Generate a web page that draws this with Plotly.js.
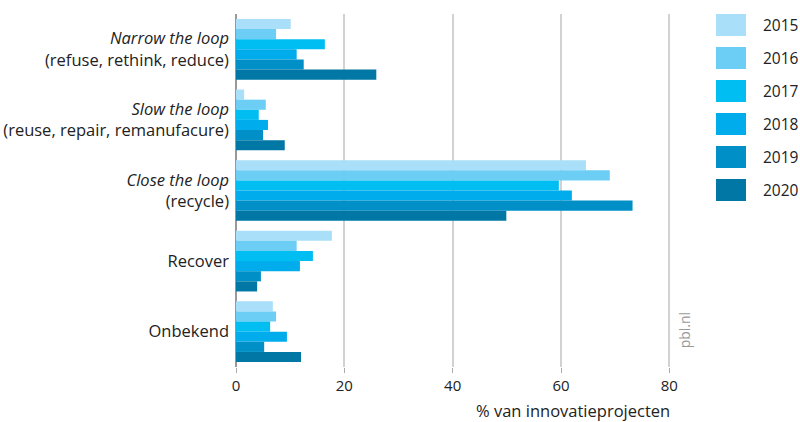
<!DOCTYPE html>
<html>
<head>
<meta charset="utf-8">
<script src="https://cdn.plot.ly/plotly-3.0.1.min.js"></script>
<style>html,body{margin:0;padding:0;background:#fff;}#chart{width:800px;height:422px;}</style>
</head>
<body>
<div id="chart"></div>
<script>
var categories = [
  "<i>Narrow the loop</i><br>(refuse, rethink, reduce)",
  "<i>Slow the loop</i><br>(reuse, repair, remanufacure)",
  "<i>Close the loop</i><br>(recycle)",
  "Recover",
  "Onbekend"
];
var years = ["2015", "2016", "2017", "2018", "2019", "2020"];
var v2015 = [10.1, 1.5, 64.6, 17.7, 6.8];
var v2016 = [7.4, 5.5, 69.0, 11.2, 7.4];
var v2017 = [16.4, 4.2, 59.6, 14.2, 6.3];
var v2018 = [11.2, 5.9, 62.0, 11.8, 9.4];
var v2019 = [12.5, 5.0, 73.2, 4.6, 5.2];
var v2020 = [25.9, 9.0, 49.9, 3.9, 12.0];
var colors = ["#aadff9", "#6ccef5", "#00bef2", "#00acec", "#008fc6", "#0077a4"];
var xTicks = [0, 20, 40, 60, 80];

var series = [v2015, v2016, v2017, v2018, v2019, v2020];
var FONT = "Open Sans, Noto Sans, sans-serif";

var traces = series.map(function (vals, i) {
  return {
    type: "bar",
    orientation: "h",
    name: years[i],
    x: vals,
    y: categories,
    marker: { color: colors[i], line: { width: 0 } },
    hoverinfo: "x+name"
  };
});

var shapes = [];
var annotations = [];
years.forEach(function (yr, i) {
  var top = i * 33;
  shapes.push({
    type: "rect", xref: "paper", yref: "paper",
    xsizemode: "pixel", ysizemode: "pixel",
    xanchor: 1, yanchor: 1,
    x0: 45, x1: 75, y0: -top - 22, y1: -top,
    fillcolor: colors[i], line: { width: 0 }
  });
  annotations.push({
    xref: "paper", yref: "paper", x: 1, y: 1,
    xshift: 90, yshift: -top - 11,
    xanchor: "left", yanchor: "middle",
    text: yr, showarrow: false,
    font: { family: FONT, size: 15.5, color: "#222" }
  });
});

annotations.push({
  xref: "x", yref: "paper", x: 80, y: 0,
  xanchor: "right", yanchor: "top", xshift: 3, yshift: -30,
  text: "% van innovatieprojecten", showarrow: false,
  font: { family: FONT, size: 16.5, color: "#222" }
});
annotations.push({
  xref: "x", yref: "paper", x: 80, y: 0,
  xshift: 15, yshift: 37,
  xanchor: "center", yanchor: "middle", textangle: -90,
  text: "pbl.nl", showarrow: false,
  font: { family: FONT, size: 14, color: "#999" }
});

var layout = {
  width: 800, height: 422,
  margin: { l: 236, r: 129, t: 14, b: 55 },
  paper_bgcolor: "#fff", plot_bgcolor: "#fff",
  barmode: "group",
  bargap: 0.14,
  bargroupgap: 0,
  showlegend: false,
  font: { family: FONT, size: 15, color: "#222" },
  xaxis: {
    range: [0, 80.3],
    tickvals: xTicks,
    ticktext: xTicks.map(String),
    showgrid: true, gridcolor: "#d2d2d2", gridwidth: 2,
    zeroline: true, zerolinecolor: "#999", zerolinewidth: 2,
    showline: false,
    ticks: "outside", ticklen: 5, tickcolor: "#aaa", tickwidth: 1,
    tickfont: { family: FONT, size: 15, color: "#222" },
    fixedrange: true
  },
  yaxis: {
    type: "category",
    autorange: "reversed",
    showgrid: false, zeroline: false, showline: false,
    ticks: "",
    ticklabelstandoff: 6,
    tickfont: { family: FONT, size: 16.5, color: "#222" },
    fixedrange: true
  },
  shapes: shapes,
  annotations: annotations
};

Plotly.newPlot("chart", traces, layout, { displayModeBar: false, staticPlot: true });
</script>
</body>
</html>
